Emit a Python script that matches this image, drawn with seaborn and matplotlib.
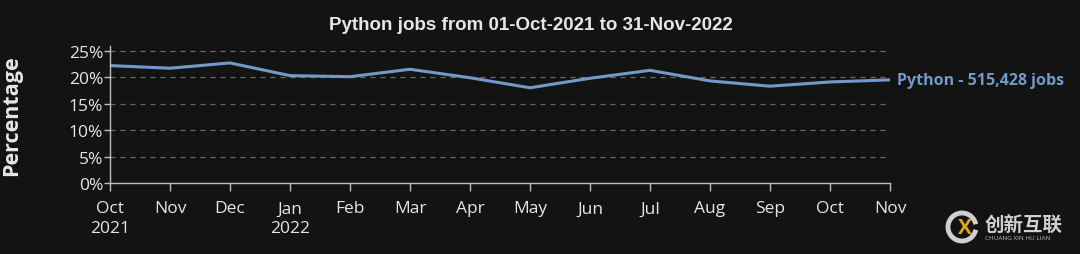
import matplotlib
matplotlib.use("Agg")
import matplotlib.pyplot as plt
from matplotlib.patches import Arc
import seaborn as sns
import pandas as pd
import numpy as np

months = ["Oct\n2021", "Nov", "Dec", "Jan\n2022", "Feb", "Mar", "Apr", "May",
          "Jun", "Jul", "Aug", "Sep", "Oct", "Nov"]
python_pct = [22.2, 21.7, 22.7, 20.3, 20.1, 21.5, 19.9, 18.0,
              19.8, 21.3, 19.3, 18.3, 19.1, 19.5]
yticks = [0, 5, 10, 15, 20, 25]
title = "Python jobs from 01-Oct-2021 to 31-Nov-2022"
series_label = "Python - 515,428 jobs"

BG = "#131313"
FG = "#e6e6e6"
LINE = "#7299c9"

sns.set_theme(style="dark")
plt.rcParams["font.family"] = ["Open Sans", "DejaVu Sans", "Noto Sans CJK SC"]

df = pd.DataFrame({"idx": np.arange(len(months)), "pct": python_pct})

fig = plt.figure(figsize=(10.8, 2.55), dpi=100, facecolor=BG)
ax = fig.add_axes([110/1080, 1-184/255, 780/1080, 137/255])
ax.set_facecolor(BG)

sns.lineplot(data=df, x="idx", y="pct", ax=ax, color=LINE, linewidth=2.2)

ax.set_xlim(0, len(months) - 1)
ax.set_ylim(0, 25.9)
ax.set_xticks(df["idx"])
ax.set_xticklabels(months, color=FG, fontsize=12.5, linespacing=1.3)
ax.set_yticks(yticks)
ax.set_yticklabels([f"{v}%" for v in yticks], color=FG, fontsize=12.5)
ax.tick_params(axis="x", length=6, width=1, color="#bfbfbf", pad=6.5, bottom=True)
ax.tick_params(axis="y", length=4, width=1, color="#bfbfbf", pad=1, left=True)

ax.grid(axis="y", linestyle=(0, (4, 4)), color="#6a6a6a", linewidth=0.9)
ax.grid(axis="x", visible=False)
for s in ["top", "right"]:
    ax.spines[s].set_visible(False)
for s in ["left", "bottom"]:
    ax.spines[s].set_visible(True)
    ax.spines[s].set_color("#bfbfbf")
    ax.spines[s].set_linewidth(1)

ax.set_xlabel("")
ax.set_ylabel("Percentage", color=FG, fontsize=15.5, fontweight="bold")
ax.yaxis.set_label_coords(-88/780, 0.5)

ax.annotate(series_label, xy=(len(months) - 1, python_pct[-1]), xytext=(5, 0),
            textcoords="offset points", va="center", ha="left",
            color=LINE, fontsize=11.5, fontweight="bold", annotation_clip=False)

fig.text(531/1080, 1-26/255, title, ha="center", va="center", color=FG,
         fontsize=13.5, fontweight="bold", family=["Liberation Sans", "DejaVu Sans"])

# watermark
fig.patches.append(Arc((962/1080, 1-228/255), 28/1080, 28/255, theta1=40, theta2=320,
                       transform=fig.transFigure, color="#cfcfcf", linewidth=3.5))
fig.text(965/1080, 1-228/255, "X", ha="center", va="center", color="#d9a520",
         fontsize=15, fontweight="bold")
fig.text(985/1080, 1-226/255, "创新互联", ha="left", va="center", color="#d0d0d0",
         fontsize=14, fontweight="bold", family=["Noto Sans CJK SC"])
fig.text(985/1080, 1-239/255, "CHUANG XIN HU LIAN", ha="left", va="center",
         color="#bbbbbb", fontsize=4.6)

fig.savefig("out.png", dpi=100, facecolor=BG)
